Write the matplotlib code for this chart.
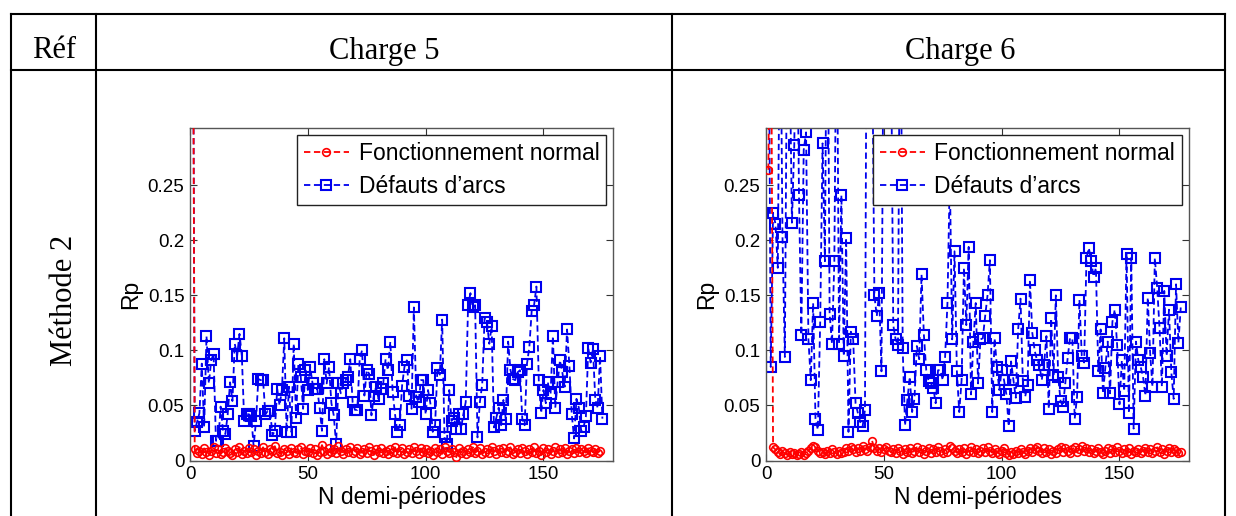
import numpy as np
import matplotlib
matplotlib.use("Agg")
import matplotlib.pyplot as plt
from matplotlib.lines import Line2D

# ---------------- data ----------------
header_ref = "Réf"
header_cols = ["Charge 5", "Charge 6"]
row_label = "Méthode 2"
legend_labels = ["Fonctionnement normal", "Défauts d’arcs"]
x_label = "N demi-périodes"
y_label = "Rp"
x_ticks = [0, 50, 100, 150]
y_ticks = [0, 0.05, 0.1, 0.15, 0.2, 0.25]

normal_c5 = [0.6,
    0.010, 0.007, 0.009, 0.006, 0.011, 0.008, 0.005, 0.009, 0.012,
    0.007, 0.010, 0.006, 0.008, 0.011, 0.009, 0.007, 0.005, 0.010, 0.008,
    0.012, 0.006, 0.009, 0.007, 0.011, 0.008, 0.010, 0.005, 0.009, 0.007,
    0.012, 0.008, 0.006, 0.010, 0.009, 0.013, 0.007, 0.008, 0.005, 0.010,
    0.009, 0.006, 0.011, 0.008, 0.007, 0.010, 0.012, 0.006, 0.009, 0.008,
    0.011, 0.007, 0.010, 0.005, 0.008, 0.014, 0.009, 0.006, 0.011, 0.008,
    0.010, 0.007, 0.013, 0.009, 0.006, 0.010, 0.008, 0.012, 0.007, 0.009,
    0.011, 0.006, 0.008, 0.010, 0.007, 0.012, 0.009, 0.005, 0.010, 0.008,
    0.011, 0.007, 0.009, 0.006, 0.010, 0.008, 0.012, 0.007, 0.009, 0.011,
    0.006, 0.008, 0.010, 0.007, 0.012, 0.009, 0.006, 0.011, 0.008, 0.010,
    0.007, 0.009, 0.005, 0.011, 0.008, 0.010, 0.006, 0.012, 0.009, 0.007,
    0.010, 0.008, 0.003, 0.011, 0.007, 0.009, 0.006, 0.010, 0.008, 0.012,
    0.007, 0.009, 0.011, 0.006, 0.008, 0.010, 0.007, 0.012, 0.009, 0.006,
    0.010, 0.008, 0.011, 0.007, 0.009, 0.012, 0.006, 0.008, 0.010, 0.007,
    0.011, 0.009, 0.006, 0.010, 0.008, 0.012, 0.007, 0.009, 0.005, 0.011,
    0.008, 0.010, 0.006, 0.009, 0.012, 0.007, 0.010, 0.008, 0.011, 0.006,
    0.009, 0.010, 0.007, 0.011, 0.008, 0.010, 0.009, 0.007, 0.011, 0.009,
    0.008, 0.010, 0.007, 0.009]

arcs_c5 = [0.6, 0.027, 0.035, 0.043, 0.088, 0.030, 0.113, 0.070, 0.091, 0.097,
    0.018, 0.018, 0.049, 0.027, 0.024, 0.042, 0.071, 0.054, 0.106, 0.095,
    0.115, 0.095, 0.036, 0.042, 0.042, 0.040, 0.013, 0.036, 0.074, 0.073,
    0.073, 0.042, 0.045, 0.045, 0.023, 0.027, 0.065, 0.050, 0.064, 0.111,
    0.026, 0.067, 0.026, 0.106, 0.039, 0.088, 0.076, 0.047, 0.082, 0.064,
    0.085, 0.070, 0.065, 0.065, 0.048, 0.027, 0.092, 0.070, 0.085, 0.052,
    0.041, 0.015, 0.070, 0.061, 0.070, 0.073, 0.076, 0.092, 0.053, 0.046,
    0.046, 0.092, 0.100, 0.059, 0.082, 0.079, 0.041, 0.059, 0.067, 0.056,
    0.065, 0.070, 0.092, 0.082, 0.108, 0.062, 0.042, 0.026, 0.032, 0.068,
    0.085, 0.091, 0.059, 0.047, 0.139, 0.058, 0.053, 0.073, 0.073, 0.042,
    0.064, 0.052, 0.026, 0.032, 0.084, 0.078, 0.128, 0.021, 0.015, 0.064,
    0.036, 0.039, 0.029, 0.042, 0.029, 0.042, 0.053, 0.141, 0.152, 0.139,
    0.141, 0.021, 0.053, 0.069, 0.129, 0.126, 0.106, 0.122, 0.030, 0.039,
    0.048, 0.032, 0.055, 0.038, 0.108, 0.082, 0.074, 0.073, 0.080, 0.082,
    0.038, 0.032, 0.088, 0.103, 0.136, 0.141, 0.158, 0.073, 0.043, 0.064,
    0.052, 0.071, 0.060, 0.113, 0.048, 0.071, 0.091, 0.080, 0.067, 0.119,
    0.086, 0.042, 0.020, 0.056, 0.048, 0.027, 0.030, 0.040, 0.102, 0.089,
    0.101, 0.055, 0.048, 0.095, 0.038]

normal_c6 = [0.264, 0.5, 0.012,
    0.010, 0.008, 0.006, 0.009, 0.007, 0.005, 0.008, 0.006, 0.007, 0.005,
    0.006, 0.008, 0.005, 0.007, 0.009, 0.011, 0.013, 0.012, 0.009, 0.007,
    0.008, 0.006, 0.009, 0.007, 0.010, 0.008, 0.006, 0.009, 0.007, 0.008,
    0.011, 0.009, 0.012, 0.010, 0.008, 0.011, 0.009, 0.013, 0.010, 0.009,
    0.012, 0.018, 0.011, 0.009, 0.011, 0.008, 0.010, 0.012, 0.009, 0.008,
    0.010, 0.007, 0.011, 0.009, 0.006, 0.010, 0.008, 0.011, 0.007, 0.009,
    0.012, 0.008, 0.010, 0.006, 0.009, 0.011, 0.007, 0.010, 0.008, 0.012,
    0.009, 0.007, 0.010, 0.008, 0.013, 0.011, 0.009, 0.007, 0.010, 0.008,
    0.011, 0.006, 0.009, 0.012, 0.008, 0.010, 0.007, 0.009, 0.011, 0.008,
    0.012, 0.009, 0.007, 0.010, 0.008, 0.006, 0.009, 0.011, 0.007, 0.005,
    0.008, 0.006, 0.009, 0.007, 0.010, 0.008, 0.006, 0.009, 0.011, 0.008,
    0.010, 0.012, 0.009, 0.007, 0.011, 0.008, 0.010, 0.006, 0.009, 0.007,
    0.010, 0.012, 0.008, 0.011, 0.009, 0.007, 0.010, 0.012, 0.008, 0.010,
    0.013, 0.009, 0.011, 0.008, 0.010, 0.007, 0.009, 0.011, 0.008, 0.006,
    0.009, 0.011, 0.007, 0.010, 0.008, 0.012, 0.009, 0.007, 0.010, 0.008,
    0.011, 0.006, 0.009, 0.008, 0.010, 0.007, 0.009, 0.011, 0.008, 0.010,
    0.007, 0.009, 0.012, 0.008, 0.010, 0.006, 0.009, 0.011, 0.008, 0.010,
    0.009, 0.007, 0.008]

arcs_c6 = [0.50, 0.085, 0.225, 0.215, 0.175, 0.45, 0.203, 0.094, 0.42, 0.38,
    0.216, 0.287, 0.45, 0.241, 0.114, 0.282, 0.298, 0.110, 0.073, 0.143,
    0.038, 0.028, 0.126, 0.288, 0.181, 0.50, 0.133, 0.106, 0.181, 0.45,
    0.106, 0.241, 0.095, 0.202, 0.026, 0.117, 0.110, 0.052, 0.043, 0.035,
    0.031, 0.046, 0.60, 0.50, 0.40, 0.150, 0.131, 0.152, 0.081, 0.45,
    0.50, 0.55, 0.40, 0.123, 0.110, 0.105, 0.50, 0.102, 0.032, 0.055,
    0.076, 0.044, 0.056, 0.104, 0.092, 0.169, 0.114, 0.082, 0.072, 0.070,
    0.066, 0.052, 0.082, 0.082, 0.073, 0.094, 0.143, 0.26, 0.110, 0.190,
    0.081, 0.044, 0.073, 0.175, 0.123, 0.194, 0.060, 0.108, 0.143, 0.070,
    0.110, 0.111, 0.131, 0.150, 0.182, 0.044, 0.111, 0.085, 0.064, 0.082,
    0.073, 0.060, 0.031, 0.090, 0.073, 0.057, 0.119, 0.147, 0.072, 0.058,
    0.069, 0.164, 0.116, 0.100, 0.091, 0.087, 0.073, 0.087, 0.113, 0.047,
    0.129, 0.078, 0.150, 0.076, 0.054, 0.049, 0.070, 0.093, 0.111, 0.111,
    0.038, 0.058, 0.146, 0.095, 0.089, 0.184, 0.193, 0.181, 0.167, 0.175,
    0.081, 0.119, 0.061, 0.084, 0.108, 0.061, 0.126, 0.137, 0.105, 0.051,
    0.091, 0.063, 0.188, 0.043, 0.184, 0.029, 0.108, 0.091, 0.085, 0.076,
    0.059, 0.148, 0.098, 0.067, 0.184, 0.157, 0.120, 0.067, 0.154, 0.095,
    0.137, 0.080, 0.056, 0.160, 0.107, 0.139]

# ---------------- figure ----------------
W, H = 1236, 516
fig = plt.figure(figsize=(W / 100, H / 100), dpi=100)
fig.patch.set_facecolor("white")

def fx(px):
    return px / W

def fy(py):
    return 1 - py / H

# table lines
tlw = 1.5
def hline(y, x0, x1):
    fig.add_artist(Line2D([fx(x0), fx(x1)], [fy(y), fy(y)], color="black", lw=tlw,
                          transform=fig.transFigure))

def vline(x, y0, y1):
    fig.add_artist(Line2D([fx(x), fx(x)], [fy(y0), fy(y1)], color="black", lw=tlw,
                          transform=fig.transFigure))

hline(14, 11, 1225)
hline(70, 11, 1225)
for xv in [11, 96, 672, 1225]:
    vline(xv, 14, 520)

serif = ["Liberation Serif", "DejaVu Serif"]
fig.text(fx(54), fy(51), header_ref, fontsize=22, family=serif, ha="center", va="center")
fig.text(fx(384), fy(51), header_cols[0], fontsize=22, family=serif, ha="center", va="center")
fig.text(fx(960), fy(51), header_cols[1], fontsize=22, family=serif, ha="center", va="center")
fig.text(fx(64), fy(300), row_label, fontsize=22, family=serif, ha="center", va="center",
         rotation=90)

sans = ["Liberation Sans", "DejaVu Sans"]
plt.rcParams["font.family"] = sans

ax_left = [190, 766]
ax_w = 423
ax_top, ax_bot = 128, 460.5
datasets = [(normal_c5, arcs_c5), (normal_c6, arcs_c6)]

for i, (normal, arcs) in enumerate(datasets):
    ax = fig.add_axes([fx(ax_left[i]), fy(ax_bot), ax_w / W, (ax_bot - ax_top) / H])
    xn = np.arange(1, len(normal) + 1)
    xa = np.arange(1, len(arcs) + 1)
    ax.plot(xn, normal, linestyle=(0, (3.5, 2)), color="red", lw=1.3, marker="o",
            markersize=5.5, markerfacecolor="none", markeredgecolor="red",
            markeredgewidth=1.2, label=legend_labels[0], zorder=3)
    ax.plot(xa, arcs, linestyle=(0, (3.5, 2)), color="#0000ee", lw=1.3, marker="s",
            markersize=7.5, markerfacecolor="none", markeredgecolor="#0000ee",
            markeredgewidth=1.5, label=legend_labels[1], zorder=2)
    ax.set_xlim(0, 179.5)
    ax.set_ylim(0, 0.302)
    ax.set_xticks(x_ticks)
    ax.set_yticks(y_ticks)
    ax.set_yticklabels(["%g" % v for v in y_ticks])
    ax.tick_params(direction="in", top=True, right=True, length=5, width=0.8,
                   labelsize=13.5, colors="#333333", labelcolor="black", pad=4)
    for s in ax.spines.values():
        s.set_color("#555555")
        s.set_linewidth(1.0)
    ax.set_xlabel(x_label, fontsize=16.5, labelpad=2)
    ax.set_ylabel(y_label, fontsize=16.5, labelpad=4)
    leg = ax.legend(loc="upper right", fontsize=16.5, fancybox=False, framealpha=1,
                    edgecolor="#222222", borderaxespad=0.3, handlelength=2.0,
                    handletextpad=0.4, labelspacing=0.45, borderpad=0.3)
    leg.get_frame().set_linewidth(1.0)

fig.savefig("out.png", dpi=100, facecolor="white")
